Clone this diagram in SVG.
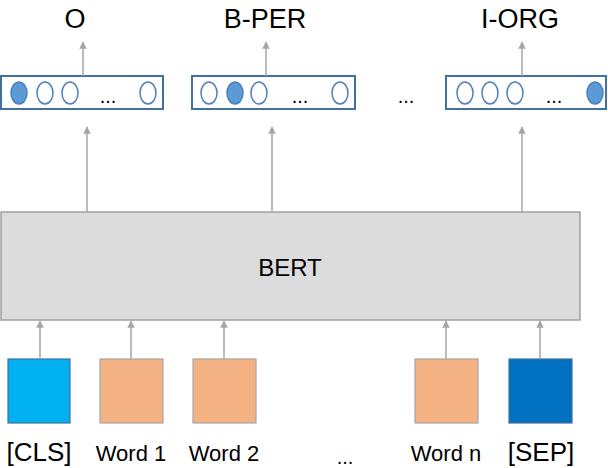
<svg xmlns="http://www.w3.org/2000/svg" width="608" height="468" viewBox="0 0 608 468">
<style>
text{font-family:"Liberation Sans",Arial,sans-serif;fill:#000}
.t{font-size:27px;text-anchor:middle}
.w{font-size:22px;text-anchor:middle}
.ob{fill:#fff;stroke:#41719c;stroke-width:2}
.e{fill:#fff;stroke:#4f81bd;stroke-width:1.5}
.f{fill:#5b9bd5;stroke:#4f81bd;stroke-width:1.5}
.c{stroke:#a6a6a6;stroke-width:1.5;fill:none;marker-end:url(#a)}
.d{font-size:20px;text-anchor:middle}
</style>
<defs><marker id="a" viewBox="0 0 10 10" refX="9" refY="5" markerWidth="5" markerHeight="5" orient="auto"><path d="M0,0L10,5L0,10z" fill="#a6a6a6"/></marker></defs>
<g id="labels">
<text class="t" x="75" y="28">O</text>
<text class="t" x="265" y="28">B-PER</text>
<text class="t" x="520" y="28">I-ORG</text>
</g>
<g id="out1"><rect class="ob" x="1" y="76" width="162" height="33"/>
<ellipse class="f" cx="19" cy="93" rx="8" ry="11"/><ellipse class="e" cx="45" cy="93" rx="8" ry="11"/><ellipse class="e" cx="70" cy="93" rx="8" ry="11"/><text class="d" x="108" y="103">...</text><ellipse class="e" cx="148" cy="93" rx="8" ry="11"/></g>
<g id="out2"><rect class="ob" x="192" y="76" width="163" height="33"/>
<ellipse class="e" cx="209" cy="93" rx="8" ry="11"/><ellipse class="f" cx="235" cy="93" rx="8" ry="11"/><ellipse class="e" cx="259" cy="93" rx="8" ry="11"/><text class="d" x="300" y="103">...</text><ellipse class="e" cx="340" cy="93" rx="8" ry="11"/></g>
<text class="d" x="406" y="103">...</text>
<g id="out3"><rect class="ob" x="446" y="76" width="160" height="33"/>
<ellipse class="e" cx="465" cy="93" rx="8" ry="11"/><ellipse class="e" cx="490" cy="93" rx="8" ry="11"/><ellipse class="e" cx="515" cy="93" rx="8" ry="11"/><text class="d" x="554" y="103">...</text><ellipse class="f" cx="595" cy="93" rx="8" ry="11"/></g>
<g id="bert"><rect x="1" y="212" width="579" height="108" fill="#dcdcdc" stroke="#a0a0a0" stroke-width="1.5"/><text class="t" x="290" y="276" style="font-size:24px">BERT</text></g>
<g id="cls"><rect x="8" y="359" width="62" height="64" fill="#00b0f0" stroke="#41719c" stroke-width="1.2"/><text class="w" x="39" y="461" style="font-size:26px">[CLS]</text></g>
<g id="w1"><rect x="100" y="359" width="63" height="64" fill="#f4b183" stroke="#a6a6a6" stroke-width="1.2"/><text class="w" x="131" y="461">Word 1</text></g>
<g id="w2"><rect x="193" y="359" width="63" height="64" fill="#f4b183" stroke="#a6a6a6" stroke-width="1.2"/><text class="w" x="224" y="461">Word 2</text></g>
<text class="d" x="345" y="464">...</text>
<g id="wn"><rect x="415" y="359" width="63" height="64" fill="#f4b183" stroke="#a6a6a6" stroke-width="1.2"/><text class="w" x="446" y="461">Word n</text></g>
<g id="sep"><rect x="509" y="359" width="63" height="64" fill="#0070c0" stroke="#41719c" stroke-width="1.2"/><text class="w" x="541" y="461" style="font-size:26px">[SEP]</text></g>
<g id="connectors">
<path class="c" d="M40 359V321"/><path class="c" d="M131 359V321"/><path class="c" d="M224 359V321"/><path class="c" d="M446 359V321"/><path class="c" d="M540 359V321"/>
<path class="c" d="M87 212V127"/><path class="c" d="M272 212V127"/><path class="c" d="M522 212V127"/>
<path class="c" d="M83 76V42"/><path class="c" d="M266 76V42"/><path class="c" d="M522 76V42"/>
</g>
</svg>
